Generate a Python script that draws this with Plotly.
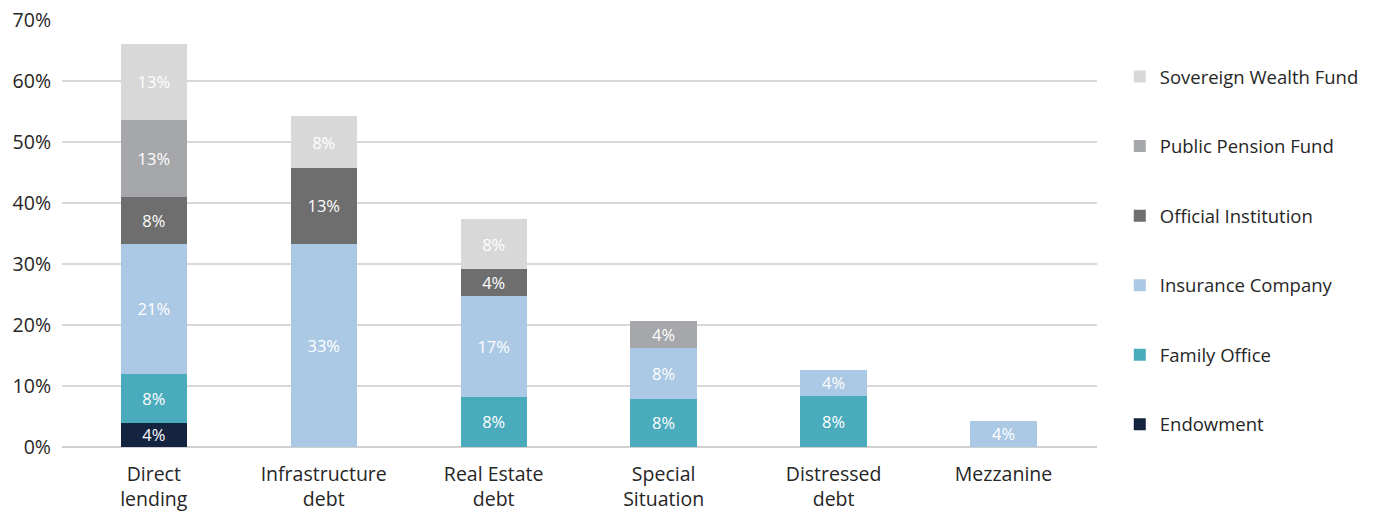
import plotly.graph_objects as go

categories = ["Direct<br>lending", "Infrastructure<br>debt", "Real Estate<br>debt",
              "Special<br>Situation", "Distressed<br>debt", "Mezzanine"]

endowment = [4.0, None, None, None, None, None]
family_office = [8.0, None, 8.2, 7.9, 8.3, None]
insurance_company = [21.3, 33.3, 16.6, 8.4, 4.4, 4.3]
official_institution = [7.7, 12.5, 4.4, None, None, None]
public_pension_fund = [12.6, None, None, 4.4, None, None]
sovereign_wealth_fund = [12.5, 8.4, 8.1, None, None, None]

series = [
    ("Endowment", endowment, "#14233f"),
    ("Family Office", family_office, "#4aabbd"),
    ("Insurance Company", insurance_company, "#abc8e4"),
    ("Official Institution", official_institution, "#6e6e6e"),
    ("Public Pension Fund", public_pension_fund, "#a5a7aa"),
    ("Sovereign Wealth Fund", sovereign_wealth_fund, "#d8d8d8"),
]

FONT = "Open Sans"
fig = go.Figure()
for i, (name, vals, color) in enumerate(series):
    fig.add_trace(go.Bar(
        name=name, x=categories, y=vals,
        marker=dict(color=color, line=dict(width=0)),
        texttemplate="%{y:.0f}%", textposition="inside",
        insidetextanchor="middle", constraintext="none",
        textfont=dict(color="white", size=16.5, family=FONT),
        legendgroup=name, legendrank=100 - i, width=0.39,
        hovertemplate="%{x}: %{y:.1f}%<extra>" + name + "</extra>",
    ))

fig.update_layout(
    barmode="stack",
    width=1379, height=512,
    margin=dict(l=62, r=282, t=20, b=65),
    paper_bgcolor="white", plot_bgcolor="white",
    font=dict(family=FONT, color="#262626", size=19.5),
    legend=dict(
        x=1.022, xanchor="left", y=0.911, yanchor="top",
        traceorder="grouped", tracegroupgap=42.5,
        font=dict(size=18.5, color="#262626", family=FONT),
        itemwidth=30,
    ),
    showlegend=True,
)
fig.update_xaxes(
    range=[-0.54, 5.55], showgrid=False, showline=False, ticks="",
    tickfont=dict(size=19.5, color="#262626", family=FONT),
    ticklabelstandoff=13, automargin=False,
)
fig.update_yaxes(
    range=[0, 70], dtick=10, ticksuffix="%",
    showgrid=True, gridcolor="#d9d9d9", gridwidth=1.5,
    zeroline=True, zerolinecolor="#d0d0d0", zerolinewidth=1.5,
    tickfont=dict(size=19.5, color="#262626", family=FONT),
    ticks="", ticklabelstandoff=10, automargin=False,
)

fig.write_html("out.html")
